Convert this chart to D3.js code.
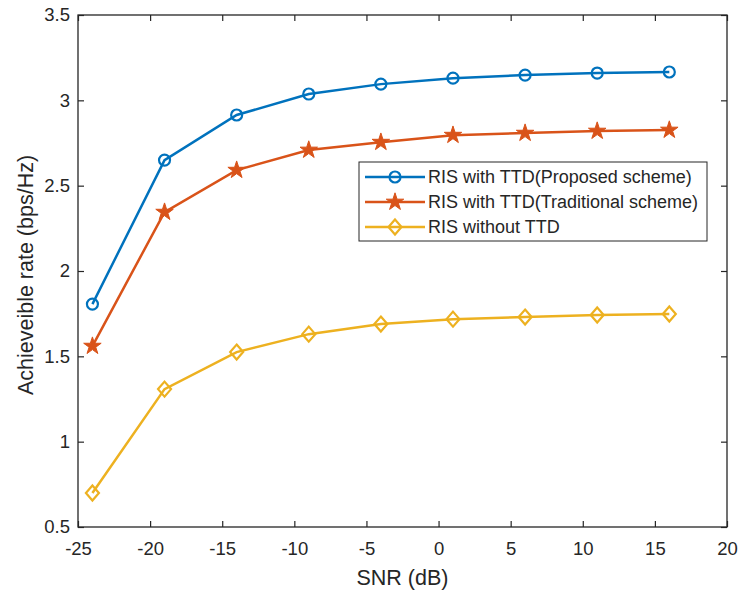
<!DOCTYPE html>
<html>
<head>
<meta charset="utf-8">
<script src="https://cdn.jsdelivr.net/npm/d3@7"></script>
<style>
  body { margin: 0; background: #fff; }
  text { font-family: "Liberation Sans", Arial, sans-serif; fill: #262626; }
</style>
</head>
<body>
<div id="chart"></div>
<script>
// data
const snr = [-24, -19, -14, -9, -4, 1, 6, 11, 16];
const proposed = [1.806, 2.65, 2.914, 3.037, 3.095, 3.13, 3.148, 3.16, 3.166];
const traditional = [1.56, 2.345, 2.591, 2.709, 2.755, 2.796, 2.808, 2.82, 2.826];
const withoutTTD = [0.699, 1.308, 1.525, 1.63, 1.689, 1.718, 1.73, 1.742, 1.748];
const seriesNames = ["RIS with TTD(Proposed scheme)", "RIS with TTD(Traditional scheme)", "RIS without TTD"];
const xTicks = [-25, -20, -15, -10, -5, 0, 5, 10, 15, 20];
const yTicks = [0.5, 1, 1.5, 2, 2.5, 3, 3.5];

const W = 740, H = 590;
const margin = {top: 15, right: 13, bottom: 63, left: 78};
const width = W - margin.left - margin.right;
const height = H - margin.top - margin.bottom;

const svg = d3.select("#chart").append("svg")
    .attr("width", W)
    .attr("height", H);
const g = svg.append("g")
    .attr("transform", "translate(" + margin.left + "," + margin.top + ")");

const x = d3.scaleLinear().domain([-25, 20]).range([0, width]);
const y = d3.scaleLinear().domain([0.5, 3.5]).range([height, 0]);

// axes, ticks pointing inward on all four sides
const tickLen = 6;
const axisStyle = sel => {
    sel.select(".domain").remove();
    sel.selectAll("line").attr("stroke", "#262626").attr("stroke-width", 1.2);
    sel.selectAll("text").attr("font-size", "18.5px").attr("fill", "#262626");
};
g.append("g").attr("transform", "translate(0," + height + ")")
    .call(d3.axisBottom(x).tickValues(xTicks).tickSizeInner(-tickLen).tickSizeOuter(0).tickPadding(15).tickFormat(d => d))
    .call(axisStyle);
g.append("g")
    .call(d3.axisTop(x).tickValues(xTicks).tickSizeInner(-tickLen).tickSizeOuter(0).tickFormat(""))
    .call(axisStyle);
g.append("g")
    .call(d3.axisLeft(y).tickValues(yTicks).tickSizeInner(-tickLen).tickSizeOuter(0).tickPadding(8).tickFormat(d => d))
    .call(axisStyle);
g.append("g").attr("transform", "translate(" + width + ",0)")
    .call(d3.axisRight(y).tickValues(yTicks).tickSizeInner(-tickLen).tickSizeOuter(0).tickFormat(""))
    .call(axisStyle);

g.append("rect")
    .attr("width", width).attr("height", height)
    .attr("fill", "none").attr("stroke", "#262626").attr("stroke-width", 1.3);

// markers
const colors = ["#0072BD", "#D95319", "#EDB120"];
const allSeries = [proposed, traditional, withoutTTD];

function drawMarker(sel, idx, color) {
    if (idx === 0) {
        sel.append("circle").attr("r", 5.5).attr("fill", "none")
            .attr("stroke", color).attr("stroke-width", 2.2);
    } else if (idx === 1) {
        sel.append("path").attr("d", d3.symbol(d3.symbolStar, 95)())
            .attr("fill", color).attr("stroke", color).attr("stroke-width", 1);
    } else {
        sel.append("path").attr("d", "M0,-7.5L6.5,0L0,7.5L-6.5,0Z").attr("fill", "none")
            .attr("stroke", color).attr("stroke-width", 2.2);
    }
}

const line = d3.line().x(d => x(d[0])).y(d => y(d[1]));

allSeries.forEach((vals, i) => {
    const pts = snr.map((s, k) => [s, vals[k]]);
    g.append("path").datum(pts)
        .attr("d", line)
        .attr("fill", "none")
        .attr("stroke", colors[i])
        .attr("stroke-width", 2.5);
    g.selectAll(".m" + i).data(pts).enter().append("g")
        .attr("class", "m" + i)
        .attr("transform", d => "translate(" + x(d[0]) + "," + y(d[1]) + ")")
        .each(function () { drawMarker(d3.select(this), i, colors[i]); });
});

// legend
const lg = svg.append("g").attr("transform", "translate(359,162)");
lg.append("rect").attr("width", 348).attr("height", 79)
    .attr("fill", "#fff").attr("stroke", "#262626").attr("stroke-width", 1);
seriesNames.forEach((name, i) => {
    const row = lg.append("g").attr("transform", "translate(0," + (15 + i * 25) + ")");
    row.append("line").attr("x1", 6).attr("x2", 66)
        .attr("stroke", colors[i]).attr("stroke-width", 2.5);
    const mk = row.append("g").attr("transform", "translate(36,0)");
    drawMarker(mk, i, colors[i]);
    row.append("text").attr("x", 69).attr("y", 6)
        .attr("font-size", "18px").text(name);
});

// axis labels
svg.append("text")
    .attr("x", margin.left + width / 2).attr("y", 585)
    .attr("text-anchor", "middle").attr("font-size", "21.5px")
    .text("SNR (dB)");
svg.append("text")
    .attr("transform", "translate(33,275) rotate(-90)")
    .attr("text-anchor", "middle").attr("font-size", "21.5px")
    .text("Achieveible rate (bps/Hz)");
</script>
</body>
</html>
